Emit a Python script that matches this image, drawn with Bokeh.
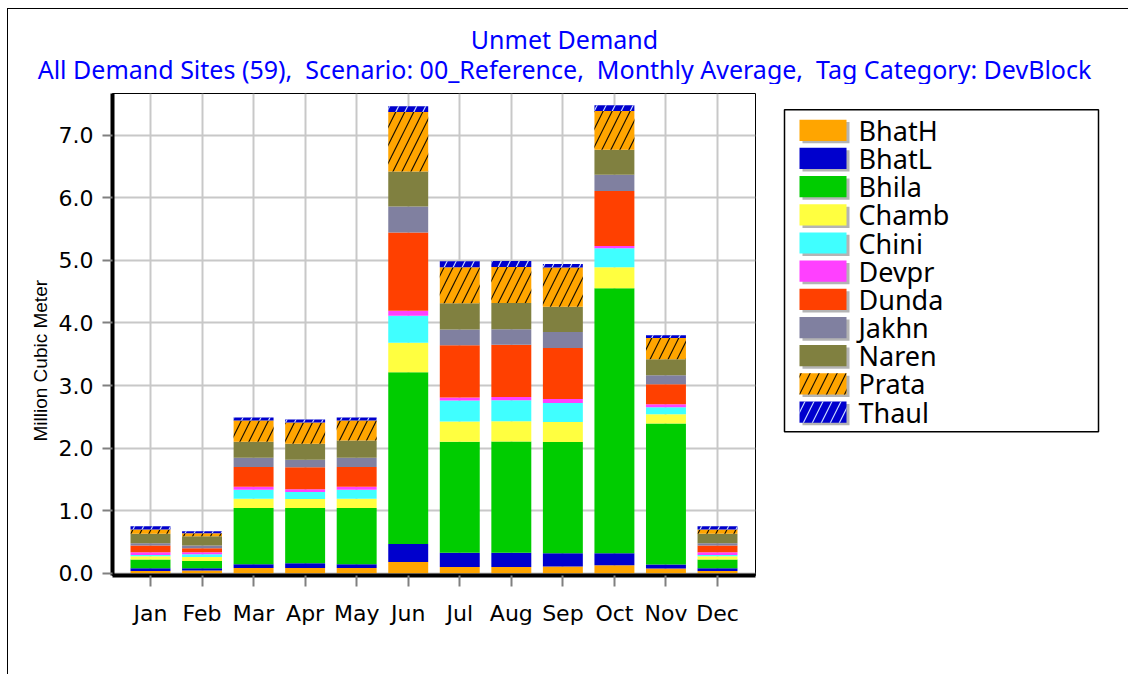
from bokeh.plotting import figure
from bokeh.models import (ColumnDataSource, FactorRange, Range1d, FixedTicker, Title)
from bokeh.layouts import column, row
from bokeh.core.properties import value
from bokeh.embed import file_html
from bokeh.resources import INLINE

months = ["Jan", "Feb", "Mar", "Apr", "May", "Jun", "Jul", "Aug", "Sep", "Oct", "Nov", "Dec"]
sites = ["BhatH", "BhatL", "Bhila", "Chamb", "Chini", "Devpr", "Dunda", "Jakhn", "Naren", "Prata", "Thaul"]

BhatH = [0.038, 0.043, 0.085, 0.085, 0.085, 0.18, 0.10, 0.10, 0.11, 0.13, 0.075, 0.038]
BhatL = [0.042, 0.037, 0.060, 0.075, 0.060, 0.29, 0.23, 0.23, 0.21, 0.19, 0.064, 0.042]
Bhila = [0.139, 0.118, 0.900, 0.883, 0.900, 2.74, 1.77, 1.775, 1.776, 4.235, 2.256, 0.139]
Chamb = [0.053, 0.064, 0.145, 0.145, 0.145, 0.475, 0.325, 0.325, 0.32, 0.336, 0.144, 0.053]
Chini = [0.022, 0.042, 0.144, 0.112, 0.144, 0.43, 0.335, 0.335, 0.304, 0.30, 0.112, 0.022]
Devpr = [0.042, 0.032, 0.048, 0.043, 0.048, 0.08, 0.05, 0.05, 0.064, 0.037, 0.048, 0.042]
Dunda = [0.107, 0.064, 0.316, 0.353, 0.316, 1.25, 0.835, 0.835, 0.816, 0.878, 0.32, 0.107]
Jakhn = [0.037, 0.043, 0.150, 0.118, 0.150, 0.415, 0.25, 0.25, 0.256, 0.26, 0.144, 0.037]
Naren = [0.150, 0.149, 0.254, 0.256, 0.273, 0.56, 0.42, 0.42, 0.404, 0.40, 0.256, 0.150]
Prata = [0.070, 0.048, 0.340, 0.338, 0.320, 0.95, 0.575, 0.575, 0.625, 0.62, 0.341, 0.070]
Thaul = [0.052, 0.032, 0.048, 0.048, 0.048, 0.09, 0.095, 0.095, 0.055, 0.09, 0.043, 0.052]

colors = ["#FFA500", "#0000CD", "#00CC00", "#FFFF40", "#40FFFF", "#FF40FF",
          "#FF4000", "#8080A0", "#808040", "#FFA500", "#0000CD"]
hatches = [" "] * 9 + ["/", "/"]
hatch_colors = ["black"] * 9 + ["#1A1000", "#C8D8FF"]

yticks = [0, 1, 2, 3, 4, 5, 6, 7]
ytick_labels = ["0.0", "1.0", "2.0", "3.0", "4.0", "5.0", "6.0", "7.0"]

title1 = "Unmet Demand"
title2 = "All Demand Sites (59),\u00a0 Scenario: 00_Reference,\u00a0 Monthly Average,\u00a0 Tag Category: DevBlock"
ylabel = "Million Cubic Meter"

source = ColumnDataSource(dict(month=months, BhatH=BhatH, BhatL=BhatL, Bhila=Bhila,
                               Chamb=Chamb, Chini=Chini, Devpr=Devpr, Dunda=Dunda,
                               Jakhn=Jakhn, Naren=Naren, Prata=Prata, Thaul=Thaul))

# ---------------- page geometry (page pixels) ----------------
OX, OY = 8, 9                 # top-left of the drawing on the page
TOTAL_W = 1120
TITLE_H = 75
LOW_H = 590
MAIN_W = 752
LEG_W = TOTAL_W - MAIN_W
low_top = OY + TITLE_H        # page y of the lower row
fl, fr = 112 - OX, 755 - OX   # frame edges inside the main figure
ft, fb = 93 - low_top, 575 - low_top

def blank(w, h, xr, yr):
    f = figure(width=w, height=h, output_backend="svg", toolbar_location=None,
               x_range=xr, y_range=yr, min_border=0,
               x_axis_location=None, y_axis_location=None)
    f.grid.visible = False
    f.outline_line_color = None
    f.background_fill_color = "white"
    f.border_fill_color = "white"
    return f

# ---------------- title strip ----------------
tp = blank(TOTAL_W, TITLE_H, Range1d(0, TOTAL_W), Range1d(TITLE_H, 0))
title_src = ColumnDataSource(dict(text=[title1, title2], y=[38.5 - OY, 68 - OY]))
tp.text(x=564 - OX, y="y", text="text", source=title_src, text_align="center",
        text_baseline="middle", text_font=value("Noto Sans"), text_font_size="25px",
        text_color="#0000FF")

# ---------------- main chart ----------------
p = figure(width=MAIN_W, height=LOW_H, output_backend="svg", toolbar_location=None,
           x_range=FactorRange(factors=months, range_padding=0.237, range_padding_units="absolute"),
           y_range=Range1d(-0.035, 7.665),
           min_border_left=fl, min_border_right=MAIN_W - fr,
           min_border_top=ft, min_border_bottom=LOW_H - fb)

p.vbar_stack(sites, x="month", width=0.775, source=source, color=colors,
             line_color=None, hatch_pattern=hatches, hatch_color=hatch_colors,
             hatch_scale=18, hatch_weight=1.2)

p.outline_line_color = "black"
p.outline_line_width = 1
p.background_fill_color = "white"
p.border_fill_color = "white"

for g in (p.xgrid[0], p.ygrid[0]):
    g.grid_line_color = "#C8C8C8"
    g.grid_line_width = 2
p.ygrid[0].ticker = FixedTicker(ticks=yticks)

xa = p.xaxis[0]
xa.axis_line_color = "black"
xa.axis_line_width = 4
xa.major_tick_line_color = "#808080"
xa.major_tick_line_width = 2
xa.major_tick_out = 11
xa.major_tick_in = 0
xa.major_label_standoff = 14
xa.major_label_text_font = "DejaVu Sans"
xa.major_label_text_font_size = "22px"
xa.major_label_text_color = "black"

ya = p.yaxis[0]
ya.ticker = FixedTicker(ticks=yticks)
ya.major_label_overrides = dict(zip(yticks, ytick_labels))
ya.axis_line_color = "black"
ya.axis_line_width = 4
ya.major_tick_line_color = "#808080"
ya.major_tick_line_width = 2
ya.major_tick_out = 10
ya.major_tick_in = 0
ya.minor_tick_line_color = None
ya.major_label_standoff = 9
ya.major_label_text_font = "DejaVu Sans"
ya.major_label_text_font_size = "22px"
ya.major_label_text_color = "black"

# y caption: rotated title on the left, starting (at its bottom end) at page y 440
p.add_layout(Title(text=ylabel, align="left", offset=575 - 441, standoff=10,
                   text_font="Liberation Sans", text_font_size="19px", text_font_style="normal",
                   text_color="black"), "left")

# ---------------- legend panel ----------------
lp = blank(LEG_W, LOW_H, Range1d(0, LEG_W), Range1d(LOW_H, 0))
lx0 = OX + MAIN_W
bx_l, bx_r, bx_t, bx_b = 784 - lx0, 1098 - lx0, 104 - low_top, 498 - low_top
lp.quad(left=[bx_l], right=[bx_r], top=[bx_t], bottom=[bx_b],
        fill_color="white", line_color="black", line_width=1.5)
pitch = 34.5
sw_l, sw_r, sw_h = 799 - lx0, 846 - lx0, 26
sw_top = [116 - low_top + i * pitch for i in range(len(sites))]
sw_bot = [t + sw_h for t in sw_top]
lp.quad(left=sw_l + 3, right=sw_r + 3, top=[t + 3 for t in sw_top], bottom=[b + 3 for b in sw_bot],
        fill_color="#B4B4B4", line_color=None)
leg_src = ColumnDataSource(dict(top=sw_top, bottom=sw_bot, color=colors, hatch=hatches,
                                hcolor=hatch_colors, label=sites,
                                ty=[t + sw_h / 2 for t in sw_top]))
lp.quad(left=sw_l, right=sw_r, top="top", bottom="bottom", source=leg_src,
        fill_color="color", line_color=None, hatch_pattern="hatch", hatch_color="hcolor",
        hatch_scale=18, hatch_weight=1.2)
lp.text(x=858 - lx0, y="ty", text="label", source=leg_src, text_baseline="middle",
        text_align="left", text_font=value("Noto Sans"), text_font_size="27px",
        text_color="black")

layout = column(tp, row(p, lp))
layout.styles = {"margin-left": "7px", "margin-top": "8px",
                 "border-left": "1px solid black", "border-top": "1px solid black"}

open("out.html", "w").write(file_html(layout, INLINE))
